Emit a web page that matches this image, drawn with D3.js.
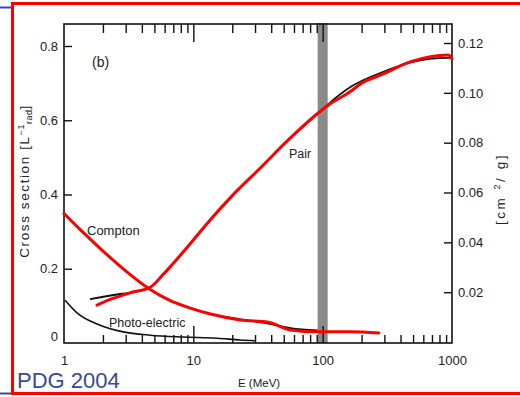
<!DOCTYPE html>
<html>
<head>
<meta charset="UTF-8">
<title>Photon cross sections</title>
<script src="https://cdn.jsdelivr.net/npm/d3@7/dist/d3.min.js"></script>
<style>
  body { margin: 0; background: #fff; }
  svg text { font-family: "Liberation Sans", Arial, sans-serif; fill: #222; }
</style>
</head>
<body>
<svg id="svg" width="520" height="397"></svg>
<script>
// energy in MeV, value on the left axis (cross section in 1/X0)
var pairE      = [1.59, 2.5, 3.5, 4.64, 5.85, 8.98, 12.8, 21.9, 33.1, 53.5, 96.5, 111, 165, 282, 481, 931, 1000];
var pairBlack  = [0.118, 0.130, 0.138, 0.150, 0.183, 0.258, 0.322, 0.411, 0.472, 0.545, 0.625, 0.644, 0.690, 0.728, 0.756, 0.768, 0.768];
var pairRedE   = [1.8, 2.3, 3.3, 4.64, 5.85, 8.98, 12.8, 21.9, 33.1, 53.5, 96.5, 111, 165, 200, 282, 481, 935, 1000];
var pairRed    = [0.102, 0.118, 0.136, 0.150, 0.185, 0.258, 0.322, 0.411, 0.472, 0.545, 0.625, 0.641, 0.678, 0.700, 0.722, 0.758, 0.776, 0.766];

var comptonE   = [1.0, 1.33, 1.9, 3.08, 4.64, 6.63, 9.48, 13.6, 23.1, 38.1, 56.5, 91.5, 165, 272];
var compton    = [0.349, 0.306, 0.255, 0.191, 0.144, 0.114, 0.094, 0.078, 0.062, 0.056, 0.035, 0.030, 0.030, 0.027];
var comptonBlkE = [1.0, 1.33, 1.9, 3.08, 4.64, 6.63, 9.48, 13.6, 23.1, 38.1, 56.5, 91.5];
var comptonBlk  = [0.349, 0.306, 0.255, 0.191, 0.144, 0.114, 0.094, 0.078, 0.064, 0.052, 0.040, 0.034];

var photoE     = [1.02, 1.26, 1.9, 2.87, 4.64, 8.37, 15.3, 23, 30];
var photo      = [0.115, 0.081, 0.048, 0.030, 0.021, 0.016, 0.013, 0.008, 0.006];

var xMajor = [1, 10, 100, 1000];
var leftTicks = [0, 0.2, 0.4, 0.6, 0.8];
var rightTicks = [0.02, 0.04, 0.06, 0.08, 0.10, 0.12];

var svg = d3.select('#svg');

var L = 64, R = 452, T = 24, B = 343;

var x = d3.scaleLog().domain([1, 1000]).range([L, R]);
var y = d3.scaleLinear().domain([0, 0.8]).range([B, 46]);
var y2 = d3.scaleLinear().domain([0, 0.12]).range([B - 1, 43]);

// minor ticks 2..9 per decade
var xMinor = [];
[1, 10, 100].forEach(function(d) {
  for (var k = 2; k <= 9; k++) xMinor.push(d * k);
});

// gray band at 100 MeV
svg.append('rect')
  .attr('x', x(100) - 5).attr('y', T - 1)
  .attr('width', 10).attr('height', B - T + 1)
  .style('fill', '#8a8a8a');

// bottom axis
var gB = svg.append('g').attr('transform', 'translate(0,' + B + ')');
gB.call(d3.axisBottom(x).tickValues(xMinor).tickSize(-8).tickFormat(''));
gB.append('g').call(d3.axisBottom(x).tickValues([10, 100]).tickSize(-17).tickFormat(''));
gB.append('g').call(d3.axisBottom(x).tickValues(xMajor).tickSize(0).tickPadding(13).tickFormat(d3.format('d')));

// top axis
var gT = svg.append('g').attr('transform', 'translate(0,' + T + ')');
gT.call(d3.axisTop(x).tickValues(xMinor).tickSize(-9).tickFormat(''));
gT.append('g').call(d3.axisTop(x).tickValues([10, 100]).tickSize(-18).tickFormat(''));

// left axis
var gL = svg.append('g').attr('transform', 'translate(' + L + ',0)');
gL.call(d3.axisLeft(y).tickValues(leftTicks).tickSize(-8).tickPadding(6)
  .tickFormat(function(d) { return d === 0 ? '0' : d3.format('.1f')(d); }));
gL.selectAll('.tick').filter(function(d) { return d === 0; }).select('text').attr('dy', '-0.2em');
gL.selectAll('.tick').filter(function(d) { return d === 0; }).select('line').remove();

// right axis
var gR = svg.append('g').attr('transform', 'translate(' + R + ',0)');
gR.call(d3.axisRight(y2).tickValues(rightTicks).tickSize(-8).tickPadding(6)
  .tickFormat(d3.format('.2f')));

svg.selectAll('.domain').remove();
svg.selectAll('.tick line').style('stroke', '#111').style('stroke-width', 1.4);
svg.selectAll('.tick text').style('font-size', '13px').style('fill', '#222');

// frame
svg.append('rect')
  .attr('x', L).attr('y', T).attr('width', R - L).attr('height', B - T)
  .style('fill', 'none').style('stroke', '#111').style('stroke-width', 1.6);

var line = d3.line()
  .x(function(d) { return x(d[0]); })
  .y(function(d) { return y(d[1]); })
  .curve(d3.curveMonotoneX);

function pts(es, vs) { return es.map(function(e, i) { return [e, vs[i]]; }); }

svg.append('path').datum(pts(photoE, photo)).attr('d', line)
  .style('fill', 'none').style('stroke', '#111').style('stroke-width', 1.6);
svg.append('path').datum(pts(comptonBlkE, comptonBlk)).attr('d', line)
  .style('fill', 'none').style('stroke', '#111').style('stroke-width', 1.6);
svg.append('path').datum(pts(pairE, pairBlack)).attr('d', line)
  .style('fill', 'none').style('stroke', '#111').style('stroke-width', 1.8);

svg.append('path').datum(pts(comptonE, compton)).attr('d', line)
  .style('fill', 'none').style('stroke', '#f00').style('stroke-width', 3).style('stroke-linecap', 'round');
svg.append('path').datum(pts(pairRedE, pairRed)).attr('d', line)
  .style('fill', 'none').style('stroke', '#f00').style('stroke-width', 3).style('stroke-linecap', 'round');

// labels
svg.append('text').attr('x', 92).attr('y', 67).style('font-size', '14px').text('(b)');
svg.append('text').attr('x', 289).attr('y', 158).style('font-size', '12.5px').text('Pair');
svg.append('text').attr('x', 87).attr('y', 235).style('font-size', '13px').text('Compton');
svg.append('text').attr('x', 109).attr('y', 327).style('font-size', '12.5px').text('Photo-electric');
svg.append('text').attr('x', 238).attr('y', 387).style('font-size', '11.5px').text('E (MeV)');

var yl = svg.append('text').attr('transform', 'translate(29,181) rotate(-90)')
  .attr('text-anchor', 'middle').style('font-size', '13.5px').style('letter-spacing', '1.6px');
yl.append('tspan').text('Cross section   [L');
yl.append('tspan').attr('dy', -5).style('font-size', '9px').style('letter-spacing', '0.5px').text('\u22121');
yl.append('tspan').attr('dy', 8).style('font-size', '9px').style('letter-spacing', '0.5px').text('rad');
yl.append('tspan').attr('dy', -3).text(']');

var yr = svg.append('text').attr('transform', 'translate(505,189) rotate(-90)')
  .attr('text-anchor', 'middle').style('font-size', '13.5px').style('letter-spacing', '2.5px');
yr.append('tspan').text('[cm ');
yr.append('tspan').attr('dy', -5).style('font-size', '9px').text('2');
yr.append('tspan').attr('dy', 5).text('/ g]');

svg.append('text').attr('x', 17).attr('y', 388).style('font-size', '22px')
  .style('fill', '#3b4a92').text('PDG 2004');

// slide frame
svg.append('rect').attr('x', 12.5).attr('y', 3.5).attr('width', 520).attr('height', 390)
  .style('fill', 'none').style('stroke', '#f00').style('stroke-width', 3);
svg.append('line').attr('x1', 0).attr('x2', 11).attr('y1', 7.5).attr('y2', 7.5)
  .style('stroke', '#3344cc').style('stroke-width', 2);
svg.append('line').attr('x1', 0).attr('x2', 11).attr('y1', 393.5).attr('y2', 393.5)
  .style('stroke', '#4444aa').style('stroke-width', 2);
</script>
</body>
</html>
